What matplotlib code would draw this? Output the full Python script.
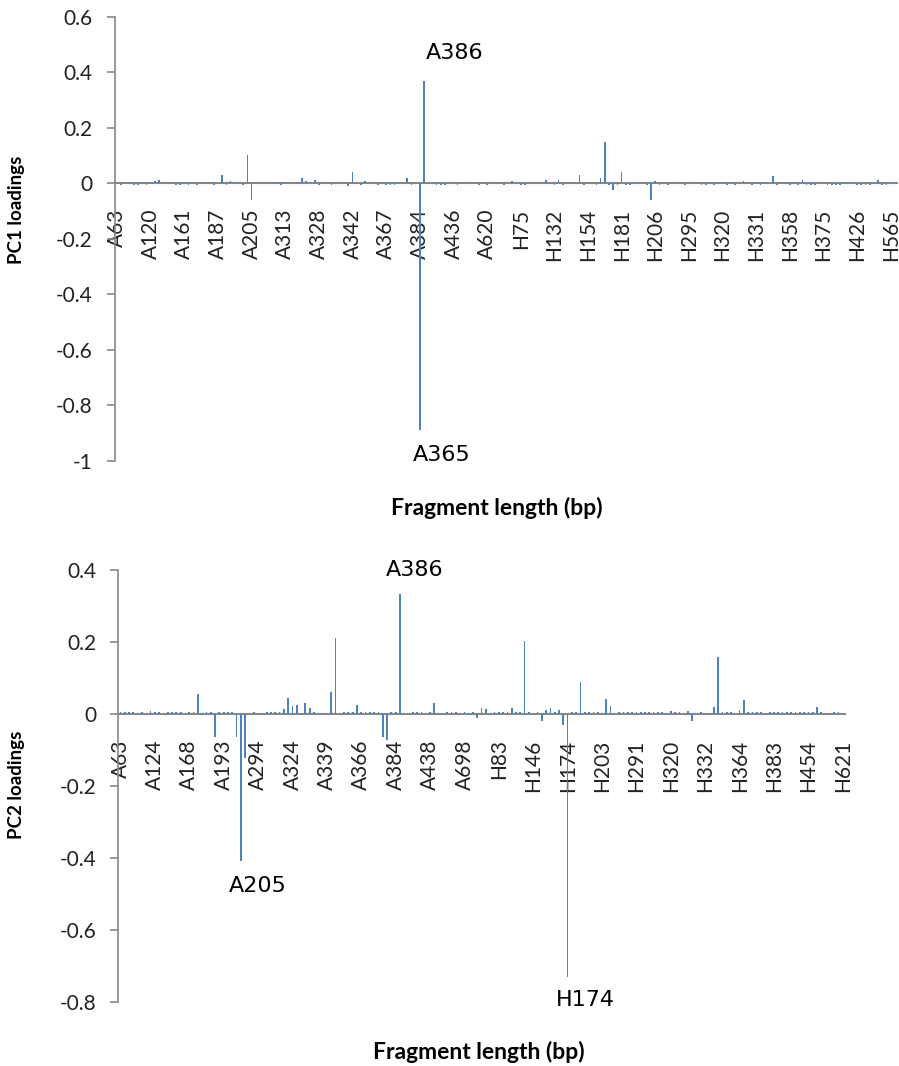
import matplotlib
matplotlib.use('Agg')
import matplotlib.pyplot as plt
from matplotlib.ticker import FixedLocator, FuncFormatter

plt.rcParams['axes.unicode_minus'] = False

BAR_COLOR = '#4F81BD'
AXIS_COLOR = '#888888'
TICK_FONT = 'Lato'
NOTE_FONT = 'DejaVu Sans'

# ---- PC1 panel data (sparse: category index -> loading) ----
pc1_n = 186
pc1_labels = ['A63', 'A120', 'A161', 'A187', 'A205', 'A313', 'A328', 'A342',
              'A367', 'A384', 'A436', 'A620', 'H75', 'H132', 'H154', 'H181',
              'H206', 'H295', 'H320', 'H331', 'H358', 'H375', 'H426', 'H565']
pc1_idx = [1, 4, 5, 7, 8, 9, 10, 14, 15, 17, 19, 21, 23, 25, 26, 27, 30, 31, 32,
           38, 39, 43, 44, 45, 47, 48, 51, 55, 56, 58, 59, 62, 64, 65, 66, 69,
           70, 72, 73, 76, 77, 78, 81, 82, 86, 88, 92, 94, 96, 97, 102, 104,
           105, 106, 109, 110, 111, 114, 115, 116, 117, 118, 119, 120, 121,
           122, 126, 127, 128, 129, 131, 135, 139, 140, 142, 145, 147, 149,
           151, 153, 156, 157, 160, 162, 163, 164, 165, 166, 169, 170, 171,
           172, 176, 177, 178, 179, 181, 182, 183]
pc1_val = [-0.006, -0.006, -0.006, -0.006, 0.005, 0.008, 0.01, -0.005, -0.005,
           -0.005, -0.005, 0.005, -0.005, 0.031, -0.006, 0.006, -0.006, 0.10,
           -0.06, 0.005, -0.005, 0.005, 0.017, 0.008, 0.01, -0.005, -0.005,
           -0.012, 0.04, -0.005, 0.006, -0.005, -0.005, -0.005, -0.005, 0.017,
           -0.006, -0.89, 0.37, -0.005, -0.005, -0.005, -0.005, 0.005, -0.005,
           -0.005, -0.005, 0.008, -0.005, -0.005, 0.01, -0.005, 0.01, -0.005,
           0.005, 0.031, -0.005, -0.005, 0.017, 0.15, -0.006, -0.024, -0.006,
           0.04, -0.006, -0.005, -0.005, -0.06, 0.006, -0.008, -0.005, -0.005,
           -0.005, -0.005, -0.005, -0.005, -0.005, 0.008, -0.005, -0.005,
           0.026, -0.005, -0.005, -0.005, 0.01, -0.005, -0.005, -0.005,
           -0.005, -0.005, -0.005, -0.005, -0.005, -0.005, -0.005, -0.005,
           0.012, -0.005, -0.005]
pc1_yticks = [0.6, 0.4, 0.2, 0, -0.2, -0.4, -0.6, -0.8, -1]
pc1_notes = [('A386', 80.3, 0.468), ('A365', 77.2, -0.98)]

# ---- PC2 panel data ----
pc2_n = 169
pc2_labels = ['A63', 'A124', 'A168', 'A193', 'A294', 'A324', 'A339', 'A366',
              'A384', 'A438', 'A698', 'H83', 'H146', 'H174', 'H203', 'H291',
              'H320', 'H332', 'H364', 'H383', 'H454', 'H621']
pc2_idx = [0, 1, 2, 3, 5, 7, 8, 9, 11, 12, 13, 14, 16, 17, 18, 19, 20, 21, 22,
           23, 24, 25, 26, 27, 28, 29, 31, 34, 35, 36, 37, 38, 39, 40, 41, 42,
           43, 44, 45, 49, 50, 52, 53, 54, 55, 56, 57, 58, 59, 60, 61, 62, 63,
           64, 65, 68, 69, 70, 72, 73, 74, 76, 77, 78, 80, 81, 82, 83, 84, 85,
           87, 88, 89, 90, 91, 92, 93, 94, 95, 97, 98, 99, 100, 101, 102, 103,
           104, 105, 106, 107, 108, 109, 110, 111, 112, 113, 114, 116, 117,
           118, 119, 120, 121, 122, 123, 124, 125, 126, 128, 129, 130, 132,
           133, 135, 138, 139, 140, 141, 142, 144, 145, 146, 147, 148, 149,
           151, 152, 153, 154, 155, 156, 157, 158, 159, 160, 161, 162, 163,
           166, 167]
pc2_val = [0.005, 0.005, 0.005, 0.005, 0.005, 0.008, 0.005, 0.005, 0.005,
           0.005, 0.005, 0.005, 0.005, 0.005, 0.055, -0.004, 0.005, 0.005,
           -0.066, 0.005, 0.005, 0.005, 0.005, -0.066, -0.41, -0.122, 0.005,
           0.005, 0.005, 0.005, 0.005, 0.012, 0.044, 0.021, 0.025, -0.004,
           0.031, 0.015, 0.005, 0.061, 0.209, 0.005, 0.006, 0.005, 0.025,
           0.005, 0.005, 0.005, 0.005, 0.005, -0.066, -0.073, 0.005, 0.005,
           0.332, 0.005, 0.005, 0.005, 0.005, 0.029, -0.004, 0.005, 0.005,
           0.005, 0.005, -0.004, 0.005, -0.013, 0.015, 0.012, 0.005, 0.005,
           0.005, 0.005, 0.015, 0.005, 0.005, 0.202, 0.005, 0.006, -0.019,
           0.01, 0.015, 0.005, 0.011, -0.032, -0.73, 0.005, 0.005, 0.087,
           0.005, 0.005, 0.005, 0.005, -0.004, 0.041, 0.021, 0.005, 0.005,
           0.005, 0.005, 0.005, 0.005, 0.005, 0.005, 0.005, 0.005, 0.005,
           0.008, 0.005, 0.005, 0.008, -0.019, 0.005, 0.018, 0.158, 0.005,
           0.005, 0.005, 0.01, 0.038, 0.005, 0.005, 0.005, 0.005, 0.005,
           0.005, 0.005, 0.005, 0.005, 0.005, 0.005, 0.005, 0.005, 0.005,
           0.005, 0.019, 0.005, 0.005, 0.005, 0.005]
pc2_yticks = [0.4, 0.2, 0, -0.2, -0.4, -0.6, -0.8]
pc2_notes = [('A386', 68.4, 0.40), ('A205', 32.0, -0.479), ('H174', 108.2, -0.795)]


def fmt_tick(v, pos):
    return '%g' % v


def draw_panel(ax, n, labels, idx, vals, yticks, notes):
    heights = [0.0] * n
    for i, v in zip(idx, vals):
        heights[i] = v
    ax.bar(range(n), heights, width=0.4, color=BAR_COLOR, linewidth=0, zorder=3)
    ax.set_xlim(-0.5, n - 0.5)
    ax.set_ylim(min(yticks), max(yticks))

    for side in ['top', 'right']:
        ax.spines[side].set_visible(False)
    ax.spines['left'].set_color(AXIS_COLOR)
    ax.spines['left'].set_linewidth(1.2)
    ax.spines['bottom'].set_position(('data', 0))
    ax.spines['bottom'].set_color(AXIS_COLOR)
    ax.spines['bottom'].set_linewidth(1.5)
    ax.spines['bottom'].set_zorder(2)

    ax.yaxis.set_major_locator(FixedLocator(yticks))
    ax.yaxis.set_major_formatter(FuncFormatter(fmt_tick))
    ax.tick_params(axis='y', direction='out', length=6, width=1.2,
                   color=AXIS_COLOR, labelsize=15, pad=10)
    ax.set_xticks(list(range(0, n, 8)))
    ax.set_xticklabels(labels, rotation=90, fontsize=15)
    ax.tick_params(axis='x', length=0, pad=18.5)
    for t in ax.get_xticklabels() + ax.get_yticklabels():
        t.set_fontfamily(TICK_FONT)
        t.set_color('#222222')

    for txt, x, y in notes:
        ax.text(x, y, txt, ha='center', va='center', fontsize=16,
                family=NOTE_FONT, color='black', zorder=5)


fig = plt.figure(figsize=(8.99, 10.66), dpi=100)

ax1 = fig.add_axes([0.1279, 0.568, 0.8699, 0.4163])
draw_panel(ax1, pc1_n, pc1_labels, pc1_idx, pc1_val, pc1_yticks, pc1_notes)
fig.text(17 / 899, 1 - 210 / 1066, 'PC1 loadings', rotation=90, ha='center', va='center',
         fontsize=13.5, fontweight='bold', family=TICK_FONT)
fig.text(497 / 899, 1 - 508 / 1066, 'Fragment length (bp)', ha='center', va='center',
         fontsize=16.5, fontweight='bold', family=TICK_FONT)

ax2 = fig.add_axes([0.1316, 0.0603, 0.8083, 0.4053])
draw_panel(ax2, pc2_n, pc2_labels, pc2_idx, pc2_val, pc2_yticks, pc2_notes)
fig.text(17 / 899, 1 - 785 / 1066, 'PC2 loadings', rotation=90, ha='center', va='center',
         fontsize=13.5, fontweight='bold', family=TICK_FONT)
fig.text(479 / 899, 1 - 1052 / 1066, 'Fragment length (bp)', ha='center', va='center',
         fontsize=16.5, fontweight='bold', family=TICK_FONT)

fig.savefig('out.png', dpi=100)
